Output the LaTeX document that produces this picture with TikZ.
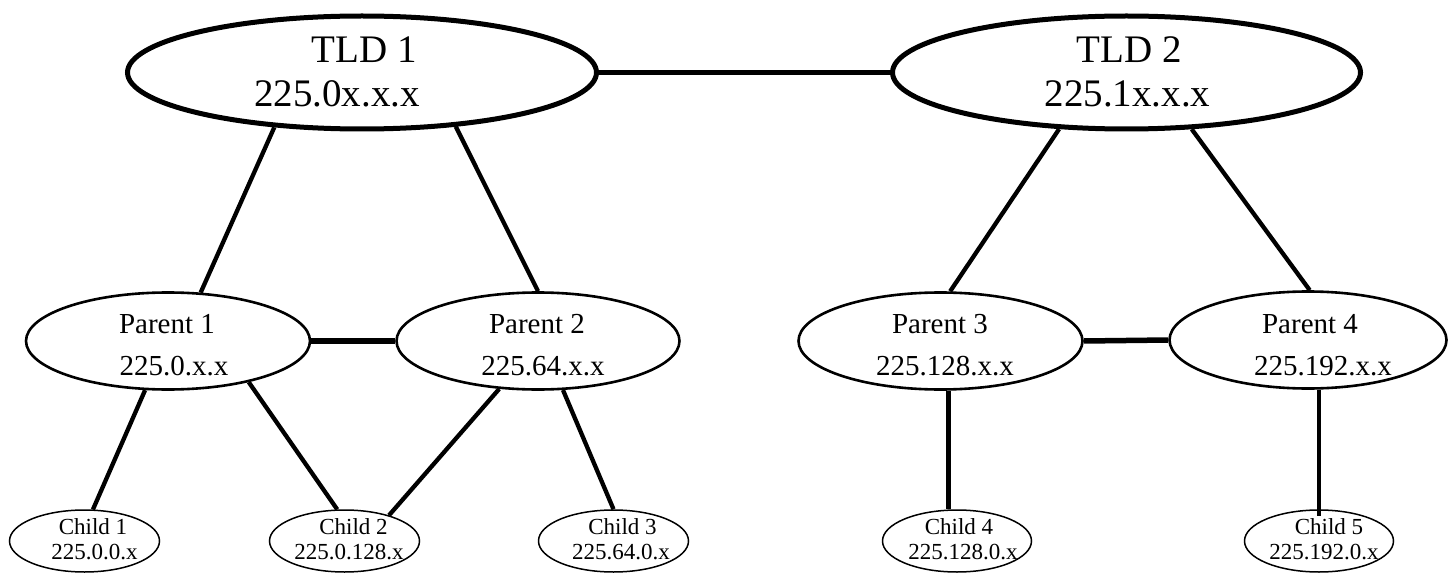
\documentclass[tikz,border=0pt]{standalone}
\usepackage{fontspec}
\setmainfont{Liberation Serif}
\usetikzlibrary{shapes.geometric}
\tikzset{
  ell/.style={ellipse, draw, inner sep=0pt, fill=white},
  tldell/.style={ell, line width=5pt, minimum width=469pt, minimum height=113pt},
  parell/.style={ell, line width=2.6pt, minimum width=284pt, minimum height=97pt},
  chell/.style={ell, line width=1.5pt, minimum width=150pt, minimum height=62pt},
  tldtxt/.style={anchor=base, inner sep=0pt, font=\fontsize{39}{39}\selectfont},
  partxt/.style={anchor=base, inner sep=0pt, font=\fontsize{29}{29}\selectfont},
  chtxt/.style={anchor=base, inner sep=0pt, font=\fontsize{23}{23}\selectfont},
  conn/.style={line width=4.3pt},
  pconn/.style={line width=5.5pt}
}
\begin{document}
\begin{tikzpicture}[x=1pt,y=-1pt]
\useasboundingbox (0,0) rectangle (1449,575);
% Nodes
\node[tldell] (tld1) at (362,72.5) {};
\node[tldell, minimum width=468pt] (tld2) at (1126.5,72.5) {};
\node[parell] (p1) at (168,341) {};
\node[parell, minimum width=283pt] (p2) at (538,341) {};
\node[parell] (p3) at (940.5,341) {};
\node[parell, minimum width=277pt] (p4) at (1308,340) {};
\node[chell] (c1) at (84.5,541) {};
\node[chell] (c2) at (344.5,541) {};
\node[chell] (c3) at (613.5,541) {};
\node[chell, minimum width=149pt] (c4) at (957,541) {};
\node[chell, minimum width=149pt] (c5) at (1319,541) {};
% Connectors
\draw[conn] (tld1.east) -- (tld2.west);
\draw[conn] (tld1.212) -- (p1.56);
\draw[conn] (tld1.330) -- (p2.90);
\draw[conn] (tld2.220.5) -- (p3.79.4);
\draw[conn] (tld2.319) -- (p4.88);
\draw[pconn] (p1.east) -- (p2.west);
\draw[pconn] (p3.east) -- (p4.west);
\draw[conn] (p1.245) -- (c1.75);
\draw[conn] (p1.333.4) -- (c2.103.6);
\draw[conn] (p2.231.2) -- (c2.30);
\draw[conn] (p2.297) -- (c3.90);
\draw[conn] (p3.279.5) -- (p3.279.5 |- c4.north);
\draw[conn] (p4.282.4 -| c5.north) -- ([yshift=-7pt]c5.north);
% Texts
\node[tldtxt] (t1a) at (364,63) {TLD 1};
\node[tldtxt] (t1b) at (337,107) {225.0x.x.x};
\node[tldtxt] (t2a) at (1129,63) {TLD 2};
\node[tldtxt] (t2b) at (1127.5,107) {225.1x.x.x};
\node[partxt] (p1a) at (167,333) {Parent 1};
\node[partxt] (p1b) at (174,375) {225.0.x.x};
\node[partxt] (p2a) at (537,333) {Parent 2};
\node[partxt] (p2b) at (543,375) {225.64.x.x};
\node[partxt] (p3a) at (940,333) {Parent 3};
\node[partxt] (p3b) at (945,375) {225.128.x.x};
\node[partxt] (p4a) at (1310,333) {Parent 4};
\node[partxt] (p4b) at (1323,375) {225.192.x.x};
\node[chtxt] (c1a) at (93,534) {Child 1};
\node[chtxt] (c1b) at (94.5,559) {225.0.0.x};
\node[chtxt] (c2a) at (353.5,534) {Child 2};
\node[chtxt] (c2b) at (349,559) {225.0.128.x};
\node[chtxt] (c3a) at (622.5,534) {Child 3};
\node[chtxt] (c3b) at (621,559) {225.64.0.x};
\node[chtxt] (c4a) at (959,534) {Child 4};
\node[chtxt] (c4b) at (963,559) {225.128.0.x};
\node[chtxt] (c5a) at (1329,534) {Child 5};
\node[chtxt] (c5b) at (1324,559) {225.192.0.x};
\end{tikzpicture}
\end{document}
